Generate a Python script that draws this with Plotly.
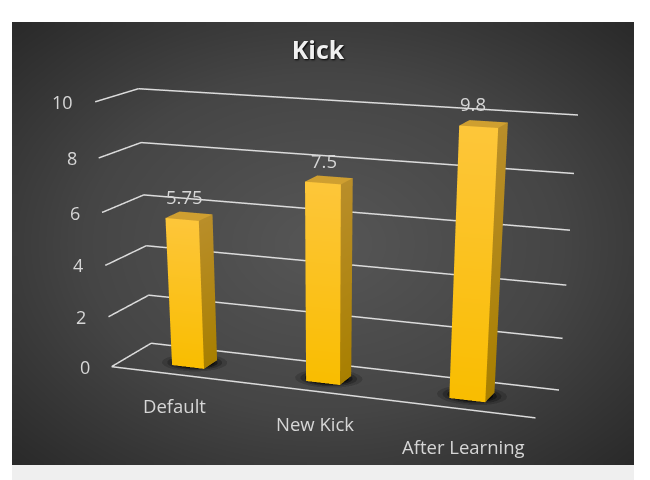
import numpy as np
import plotly.graph_objects as go

categories = ["Default", "New Kick", "After Learning"]
values = [5.75, 7.5, 9.8]
value_labels = ["5.75", "7.5", "9.8"]
z_ticks = [0, 2, 4, 6, 8, 10]
title_text = "Kick"

# geometry / style of the 3D box
bar_x = [0.4938, 1.4908, 2.4956]
bar_y = 0.4787
bar_w = 0.2433
bar_d = 0.3535
cat_shift = [(-2, -31), (2, -33), (5, -38)]
val_shift = [(-5, 20), (-5, 19), (-11, 20)]
eye = dict(x=2.2221, y=-5.7833, z=1.4374)
center = dict(x=0.5114, y=-1.3782, z=-1.0555)
aspect = dict(x=1.7255, y=0.3493, z=1)
FIG_H = 1363  # long-lens camera: tall scene, only the top part is in the window
VIEW_W, VIEW_H = 650, 480
PANEL = (12, 22, 634, 465)

fig = go.Figure()

# panel background: soft radial gradient
gx = np.linspace(-1, 1, 61)
gy = np.linspace(-1, 1, 61)
R = np.sqrt(gx[None, :] ** 2 + gy[:, None] ** 2) / np.sqrt(2)
fig.add_trace(go.Heatmap(
    z=np.round(R, 3).tolist(), zsmooth="best", showscale=False, hoverinfo="skip",
    zmin=0, zmax=1, colorscale=[[0, "#565656"], [0.55, "#454545"], [1, "#2a2a2a"]],
))

LINE = "#dcdcdc"


def box_mesh(x0, x1, y0, y1, z1):
    xs, ys, zs, cols, i, j, k = [], [], [], [], [], [], []

    def quad(pts, cs):
        n = len(xs)
        for p, c in zip(pts, cs):
            xs.append(p[0]); ys.append(p[1]); zs.append(p[2]); cols.append(c)
        i.extend([n, n]); j.extend([n + 1, n + 2]); k.extend([n + 2, n + 3])

    quad([(x0, y0, 0), (x1, y0, 0), (x1, y0, z1), (x0, y0, z1)],
         ["#f9bd00", "#f9bd00", "#fdc63a", "#fdc63a"])
    quad([(x1, y0, 0), (x1, y1, 0), (x1, y1, z1), (x1, y0, z1)],
         ["#a87f00", "#a87f00", "#b98e2a", "#b98e2a"])
    quad([(x0, y0, z1), (x1, y0, z1), (x1, y1, z1), (x0, y1, z1)],
         ["#cf9f30"] * 4)
    return xs, ys, zs, cols, i, j, k


# soft shadows on the floor
ang = np.linspace(0, 2 * np.pi, 24, endpoint=False)
for cx in bar_x:
    for grow, op in [(1.9, 0.16), (1.6, 0.25), (1.35, 0.4), (1.15, 0.6)]:
        sx = cx + bar_w / 2 * grow * np.cos(ang)
        sy = bar_y + bar_d / 2 * grow * np.sin(ang)
        n = len(ang)
        fig.add_trace(go.Mesh3d(
            x=sx.tolist(), y=sy.tolist(), z=[0.01] * n,
            i=[0] * (n - 2), j=list(range(1, n - 1)), k=list(range(2, n)),
            color="#000000", opacity=op, hoverinfo="skip",
            lighting=dict(ambient=1, diffuse=0, specular=0),
        ))

# bars
for cx, v in zip(bar_x, values):
    xs, ys, zs, cols, i, j, k = box_mesh(cx - bar_w / 2, cx + bar_w / 2,
                                         bar_y - bar_d / 2, bar_y + bar_d / 2, v)
    fig.add_trace(go.Mesh3d(
        x=xs, y=ys, z=zs, i=i, j=j, k=k, vertexcolor=cols, hoverinfo="skip",
        flatshading=True, lighting=dict(ambient=1, diffuse=0, specular=0, fresnel=0),
    ))

# gridlines on left and back walls, plus floor front edge
for t in z_ticks:
    fig.add_trace(go.Scatter3d(
        x=[0, 0, 3], y=[0, 1, 1], z=[t, t, t], mode="lines",
        line=dict(color=LINE, width=3), hoverinfo="skip", showlegend=False,
    ))
fig.add_trace(go.Scatter3d(
    x=[0, 3], y=[0, 0], z=[0, 0], mode="lines",
    line=dict(color=LINE, width=3), hoverinfo="skip", showlegend=False,
))

anns = []
FONT = "Open Sans"
TXT = "#d6d6d6"
for t in z_ticks:
    anns.append(dict(x=0, y=0, z=t, text=str(t), showarrow=False, xanchor="right", yanchor="middle",
                     xshift=-20, font=dict(family=FONT, size=18, color=TXT)))
for cx, c, s in zip(bar_x, categories, cat_shift):
    anns.append(dict(x=cx, y=0, z=0, text=c, showarrow=False, xanchor="center", yanchor="middle",
                     xshift=s[0], yshift=s[1], font=dict(family=FONT, size=18.5, color=TXT)))
for cx, v, lab, s in zip(bar_x, values, value_labels, val_shift):
    anns.append(dict(x=cx, y=bar_y, z=v, text=lab, showarrow=False, xanchor="center", yanchor="middle",
                     xshift=s[0], yshift=s[1], font=dict(family=FONT, size=18.5, color=TXT)))

hidden = dict(visible=False, showgrid=False, zeroline=False, showspikes=False)
fx = lambda px: px / VIEW_W
fy = lambda py: 1 - py / FIG_H
fig.update_layout(
    width=VIEW_W, height=FIG_H, margin=dict(l=0, r=0, t=0, b=0), autosize=False,
    paper_bgcolor="#ffffff", plot_bgcolor="rgba(0,0,0,0)", showlegend=False,
    title=dict(text="<b>" + title_text + "</b>", x=fx(318), y=fy(50), xanchor="center", yanchor="middle",
               font=dict(family=FONT, size=25, color="#f0f0f0", shadow="1px 1px 2px #000000")),
    xaxis=dict(domain=[fx(PANEL[0]), fx(PANEL[2])], visible=False, fixedrange=True),
    yaxis=dict(domain=[fy(PANEL[3]), fy(PANEL[1])], visible=False, fixedrange=True),
    shapes=[dict(type="rect", xref="paper", yref="paper", x0=fx(PANEL[0]), x1=fx(PANEL[2]),
                 y0=fy(VIEW_H), y1=fy(PANEL[3]),
                 fillcolor="#efefef", line=dict(width=0), layer="below")],
    scene=dict(
        domain=dict(x=[0, 1], y=[0, 1]), bgcolor="rgba(0,0,0,0)",
        xaxis=dict(range=[0, 3], autorange=False, **hidden),
        yaxis=dict(range=[0, 1], autorange=False, **hidden),
        zaxis=dict(range=[0, 10], autorange=False, **hidden),
        aspectmode="manual", aspectratio=aspect,
        camera=dict(eye=eye, center=center, up=dict(x=0, y=0, z=1), projection=dict(type="perspective")),
        annotations=anns,
    ),
)
fig.write_html(
    "out.html", config=dict(displayModeBar=False),
    post_script="document.documentElement.style.overflow='hidden';document.body.style.overflow='hidden';document.body.style.margin='0';",
)
